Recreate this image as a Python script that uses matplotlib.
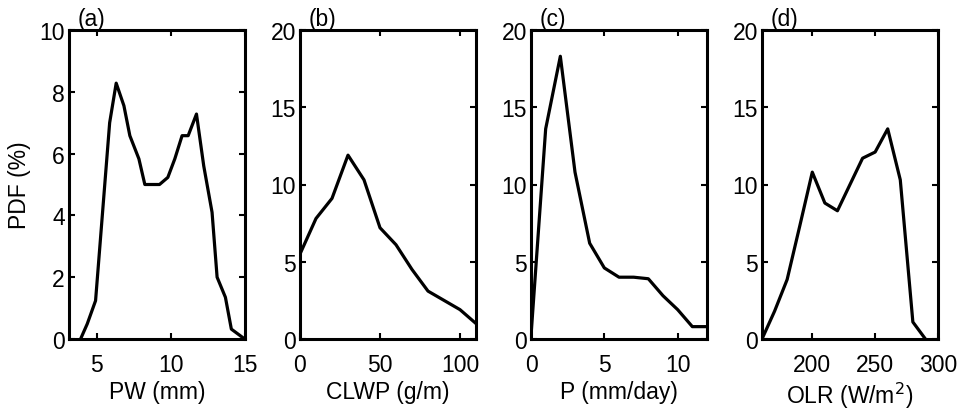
import matplotlib
matplotlib.use("Agg")
import matplotlib.pyplot as plt

plt.rcParams['font.family'] = ['Liberation Sans', 'DejaVu Sans']
plt.rcParams['font.size'] = 16.5

# (a) precipitable water
pw_x = [3.92, 4.37, 4.93, 5.88, 6.32, 6.84, 7.24, 7.85, 8.25, 9.24, 9.8, 10.27,
        10.76, 11.17, 11.73, 12.22, 12.78, 13.12, 13.68, 14.08, 14.84]
pw_y = [0.0, 0.49, 1.24, 7.0, 8.28, 7.55, 6.58, 5.83, 5.0, 5.0, 5.23, 5.83,
        6.58, 6.58, 7.28, 5.6, 4.1, 2.0, 1.35, 0.32, 0.05]

# (b) cloud liquid water path
clwp_x = [0, 10, 20, 30, 40, 50, 60, 70, 80, 90, 100, 110]
clwp_y = [5.5, 7.8, 9.1, 11.9, 10.3, 7.2, 6.1, 4.5, 3.1, 2.5, 1.9, 1.0]

# (c) precipitation
p_x = [0, 1, 2, 3, 4, 5, 6, 7, 8, 9, 10, 11, 12]
p_y = [0.2, 13.6, 18.3, 10.8, 6.2, 4.6, 4.0, 4.0, 3.9, 2.8, 1.9, 0.8, 0.8]

# (d) outgoing longwave radiation
olr_x = [160, 170, 180, 190, 200, 210, 220, 230, 240, 250, 260, 270, 280, 290]
olr_y = [0.0, 1.8, 3.85, 7.3, 10.8, 8.8, 8.3, 10.0, 11.7, 12.1, 13.6, 10.3, 1.1, 0.0]

panels = [
    ("(a)", pw_x, pw_y, (3.14, 15), [5, 10, 15], (0, 10), [0, 2, 4, 6, 8, 10], "PW (mm)"),
    ("(b)", clwp_x, clwp_y, (0, 110), [0, 50, 100], (0, 20), [0, 5, 10, 15, 20], "CLWP (g/m)"),
    ("(c)", p_x, p_y, (0, 12), [0, 5, 10], (0, 20), [0, 5, 10, 15, 20], "P (mm/day)"),
    ("(d)", olr_x, olr_y, (160, 300), [200, 250, 300], (0, 20), [0, 5, 10, 15, 20], "OLR (W/m$^2$)"),
]

fig = plt.figure(figsize=(9.64, 4.14), dpi=100)
lefts = [69, 300, 531, 762]

for i, (tag, xs, ys, xl, xt, yl, yt, xlab) in enumerate(panels):
    ax = fig.add_axes([lefts[i] / 964, 74 / 414, 176 / 964, 309 / 414])
    ax.plot(xs, ys, color='black', lw=2.3)
    ax.set_xlim(*xl)
    ax.set_ylim(*yl)
    ax.set_xticks(xt)
    ax.set_yticks(yt)
    ax.tick_params(direction='in', length=4, width=1.5, top=True, right=True)
    ax.tick_params(axis='x', pad=10)
    ax.tick_params(axis='y', pad=3)
    for s in ax.spines.values():
        s.set_linewidth(2.2)
    ax.set_xlabel(xlab, labelpad=3)
    if i == 0:
        ax.set_ylabel("PDF (%)", labelpad=6)
    ax.text(0.05, 1.0, tag, transform=ax.transAxes, ha='left', va='bottom')

fig.savefig("out.png", dpi=100)
